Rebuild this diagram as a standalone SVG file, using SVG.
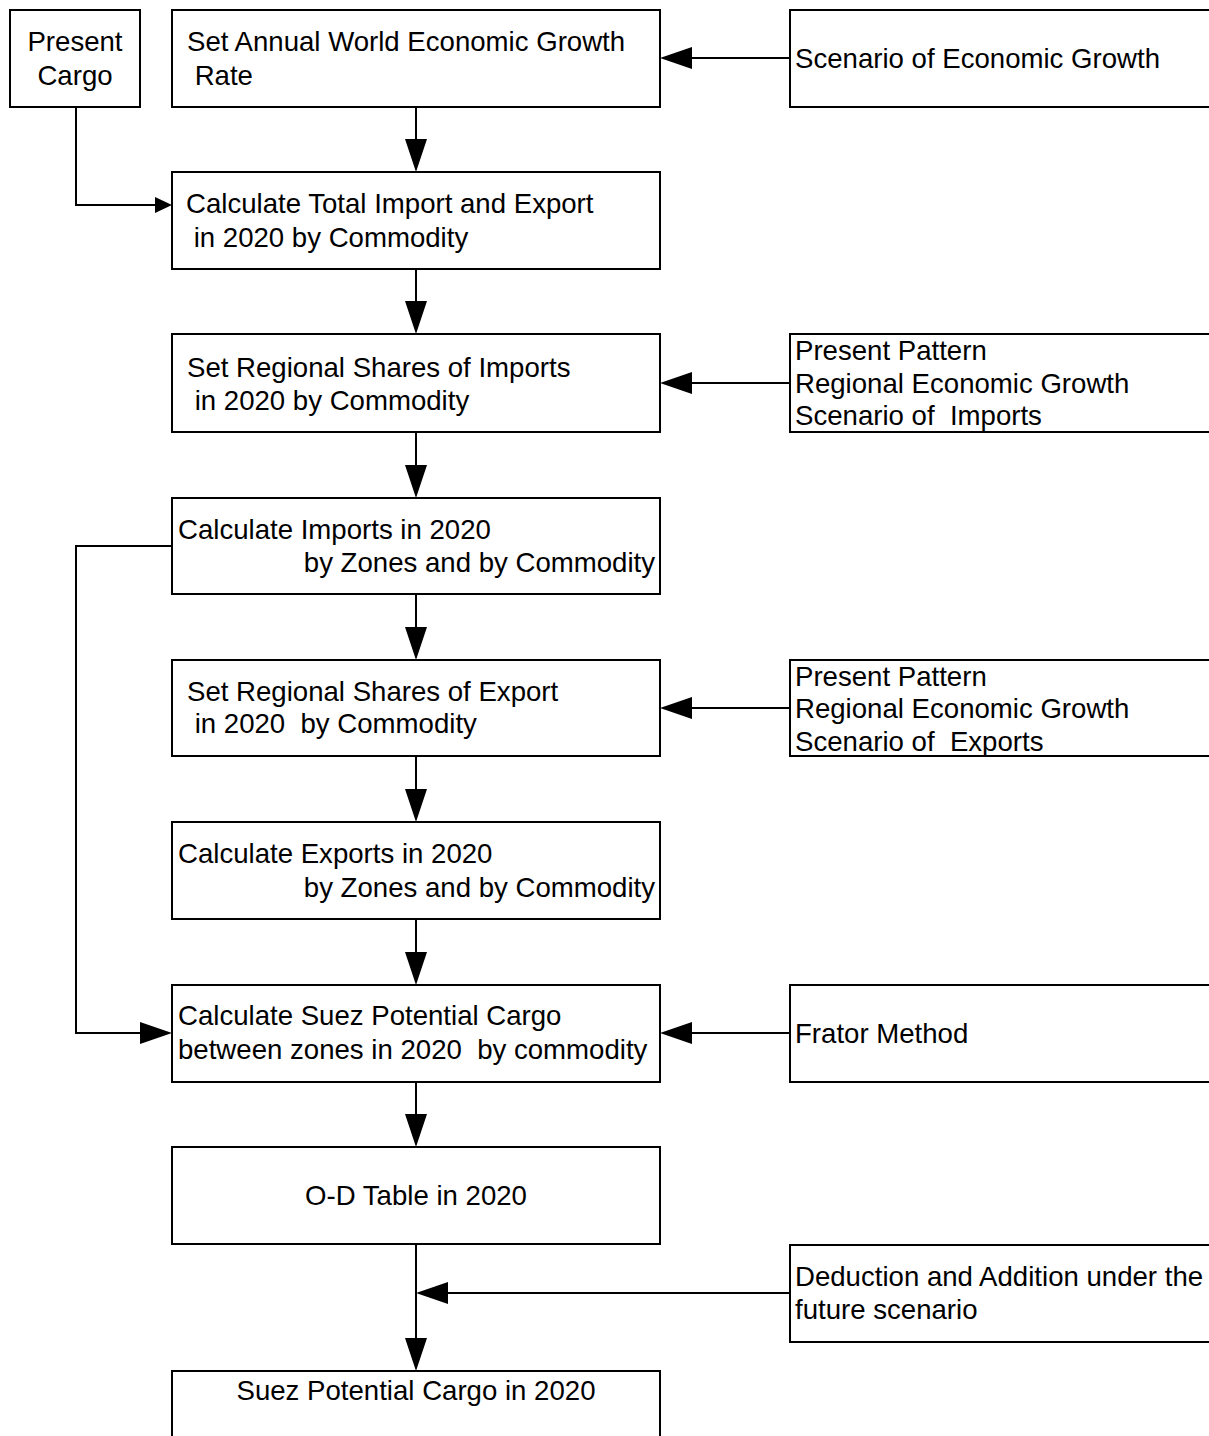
<svg xmlns="http://www.w3.org/2000/svg" width="1209" height="1436" viewBox="0 0 1209 1436">
<defs>
<style>
.box{fill:#fff;stroke:#000;stroke-width:2}
.ln{fill:none;stroke:#000;stroke-width:2}
.ah{fill:#000;stroke:none}
text{font-family:"Liberation Sans",Arial,sans-serif;font-size:27.6px;fill:#000}
.c{text-anchor:middle}
</style>
</defs>
<rect width="1209" height="1436" fill="#fff"/>
<g id="connectors">
<path class="ln" d="M416,107V140M416,269V302M416,432V466M416,594V628M416,756V790M416,919V953M416,1082V1115M416,1244V1340"/>
<path class="ah" d="M405,139L427,139L416,172Z M405,301L427,301L416,334Z M405,465L427,465L416,498Z M405,627L427,627L416,660Z M405,789L427,789L416,822Z M405,952L427,952L416,985Z M405,1114L427,1114L416,1147Z M405,1338L427,1338L416,1371Z"/>
<path class="ln" d="M790,58H690M790,383H690M790,708H690M790,1033H690M790,1293H446"/>
<path class="ah" d="M660,58L692,47L692,69Z M660,383L692,372L692,394Z M660,708L692,697L692,719Z M660,1033L692,1022L692,1044Z M416,1293L448,1282L448,1304Z"/>
<path class="ln" d="M76,107V205H156"/>
<path class="ah" d="M172,205L155,197L155,213Z"/>
<path class="ln" d="M172,546H76V1033H142"/>
<path class="ah" d="M172,1033L140,1022L140,1044Z"/>
</g>
<g id="present-cargo"><rect class="box" x="10" y="10" width="130" height="97"/><text class="c" x="75" y="51">Present</text><text class="c" x="75" y="85">Cargo</text></g>
<g id="set-annual"><rect class="box" x="172" y="10" width="488" height="97"/><text x="187" y="51">Set Annual World Economic Growth</text><text x="187" y="85" xml:space="preserve"> Rate</text></g>
<g id="scenario-growth"><rect class="box" x="790" y="10" width="430" height="97"/><text x="795" y="68">Scenario of Economic Growth</text></g>
<g id="calc-total"><rect class="box" x="172" y="172" width="488" height="97"/><text x="186" y="213">Calculate Total Import and Export</text><text x="186" y="247" xml:space="preserve"> in 2020 by Commodity</text></g>
<g id="set-imports"><rect class="box" x="172" y="334" width="488" height="98"/><text x="187" y="377">Set Regional Shares of Imports</text><text x="187" y="410" xml:space="preserve"> in 2020 by Commodity</text></g>
<g id="pattern-imports"><rect class="box" x="790" y="334" width="430" height="98"/><text x="795" y="360">Present Pattern</text><text x="795" y="393">Regional Economic Growth</text><text x="795" y="425" xml:space="preserve">Scenario of  Imports</text></g>
<g id="calc-imports"><rect class="box" x="172" y="498" width="488" height="96"/><text x="178" y="539">Calculate Imports in 2020</text><text x="655" y="572" text-anchor="end">by Zones and by Commodity</text></g>
<g id="set-exports"><rect class="box" x="172" y="660" width="488" height="96"/><text x="187" y="701">Set Regional Shares of Export</text><text x="187" y="733" xml:space="preserve"> in 2020  by Commodity</text></g>
<g id="pattern-exports"><rect class="box" x="790" y="660" width="430" height="96"/><text x="795" y="686">Present Pattern</text><text x="795" y="718">Regional Economic Growth</text><text x="795" y="751" xml:space="preserve">Scenario of  Exports</text></g>
<g id="calc-exports"><rect class="box" x="172" y="822" width="488" height="97"/><text x="178" y="863">Calculate Exports in 2020</text><text x="655" y="897" text-anchor="end">by Zones and by Commodity</text></g>
<g id="calc-suez"><rect class="box" x="172" y="985" width="488" height="97"/><text x="178" y="1025">Calculate Suez Potential Cargo</text><text x="178" y="1059" xml:space="preserve">between zones in 2020  by commodity</text></g>
<g id="frator"><rect class="box" x="790" y="985" width="430" height="97"/><text x="795" y="1043">Frator Method</text></g>
<g id="od-table"><rect class="box" x="172" y="1147" width="488" height="97"/><text class="c" x="416" y="1205">O-D Table in 2020</text></g>
<g id="deduction"><rect class="box" x="790" y="1245" width="430" height="97"/><text x="795" y="1286">Deduction and Addition under the</text><text x="795" y="1319">future scenario</text></g>
<g id="suez-cargo"><rect class="box" x="172" y="1371" width="488" height="80"/><text class="c" x="416" y="1400">Suez Potential Cargo in 2020</text></g>
</svg>
